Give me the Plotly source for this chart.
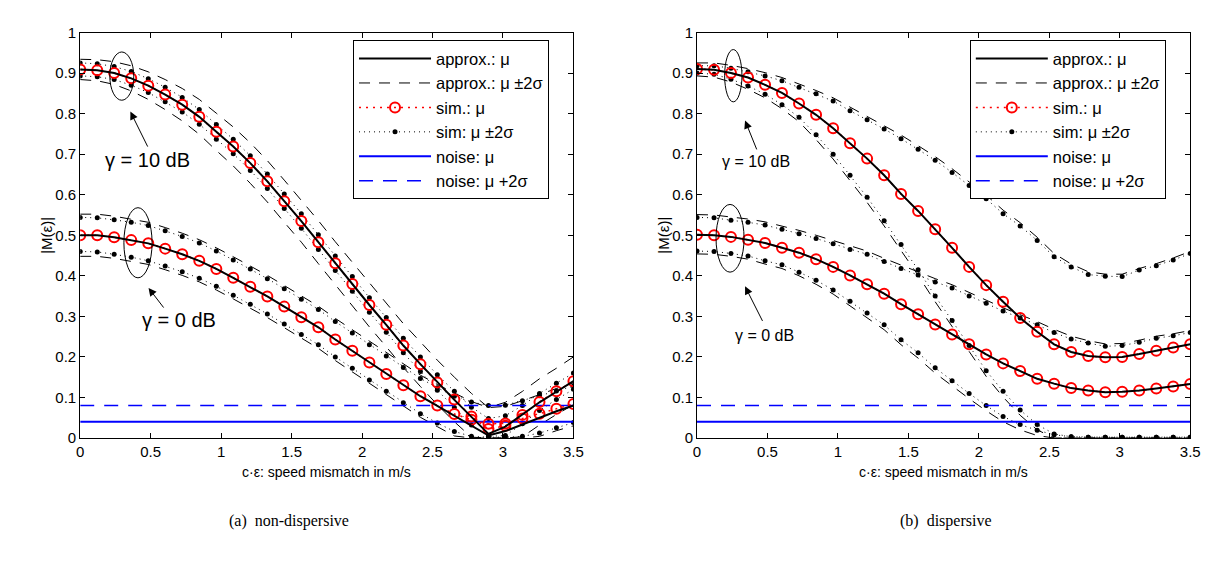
import plotly.graph_objects as go

# ---------------- data ----------------
x_vals = [0.000, 0.121, 0.241, 0.362, 0.483, 0.603, 0.724, 0.845, 0.966, 1.086,
          1.207, 1.328, 1.448, 1.569, 1.690, 1.810, 1.931, 2.052, 2.172, 2.293,
          2.414, 2.534, 2.655, 2.776, 2.897, 3.017, 3.138, 3.259, 3.379, 3.500]

# (a) non-dispersive, gamma = 10 dB
nd_sim_mu_10 = [0.909, 0.907, 0.900, 0.887, 0.869, 0.847, 0.822, 0.792, 0.755, 0.719,
                0.678, 0.633, 0.584, 0.535, 0.483, 0.431, 0.380, 0.328, 0.279, 0.228,
                0.182, 0.137, 0.095, 0.053, 0.022, 0.030, 0.057, 0.089, 0.115, 0.140]
nd_apx_mu_10 = [0.909, 0.907, 0.900, 0.887, 0.869, 0.847, 0.822, 0.792, 0.755, 0.719,
                0.678, 0.633, 0.584, 0.535, 0.483, 0.431, 0.380, 0.328, 0.279, 0.228,
                0.182, 0.137, 0.094, 0.052, 0.010, 0.028, 0.058, 0.088, 0.114, 0.140]
nd_sim_up_10 = [0.925, 0.923, 0.916, 0.904, 0.886, 0.865, 0.840, 0.810, 0.773, 0.737,
                0.696, 0.651, 0.602, 0.553, 0.501, 0.449, 0.398, 0.346, 0.297, 0.246,
                0.200, 0.156, 0.115, 0.076, 0.048, 0.055, 0.080, 0.110, 0.135, 0.160]
nd_sim_lo_10 = [0.893, 0.891, 0.884, 0.870, 0.852, 0.829, 0.804, 0.774, 0.737, 0.701,
                0.660, 0.615, 0.566, 0.517, 0.465, 0.413, 0.362, 0.310, 0.261, 0.210,
                0.164, 0.118, 0.075, 0.032, 0.004, 0.006, 0.035, 0.068, 0.095, 0.120]
nd_apx_up_10 = [0.934, 0.933, 0.928, 0.918, 0.903, 0.884, 0.862, 0.835, 0.801, 0.767,
                0.728, 0.684, 0.636, 0.587, 0.536, 0.484, 0.433, 0.382, 0.333, 0.282,
                0.237, 0.192, 0.150, 0.110, 0.075, 0.088, 0.115, 0.146, 0.172, 0.200]
nd_apx_lo_10 = [0.884, 0.881, 0.872, 0.856, 0.835, 0.810, 0.782, 0.749, 0.709, 0.671,
                0.628, 0.582, 0.532, 0.483, 0.430, 0.378, 0.327, 0.274, 0.225, 0.174,
                0.127, 0.082, 0.040, 0.002, 0.000, 0.000, 0.003, 0.032, 0.058, 0.082]

# (a) non-dispersive, gamma = 0 dB
nd_sim_mu_0 = [0.500, 0.500, 0.495, 0.488, 0.480, 0.467, 0.453, 0.437, 0.417, 0.395,
               0.373, 0.349, 0.324, 0.298, 0.273, 0.243, 0.215, 0.186, 0.158, 0.130,
               0.103, 0.080, 0.059, 0.045, 0.035, 0.036, 0.048, 0.060, 0.072, 0.084]
nd_apx_mu_0 = [0.500, 0.500, 0.495, 0.488, 0.480, 0.467, 0.453, 0.437, 0.417, 0.395,
               0.373, 0.349, 0.324, 0.298, 0.273, 0.243, 0.215, 0.186, 0.158, 0.130,
               0.103, 0.079, 0.055, 0.030, 0.006, 0.017, 0.034, 0.050, 0.066, 0.080]
nd_sim_up_0 = [0.544, 0.543, 0.538, 0.532, 0.524, 0.511, 0.497, 0.481, 0.461, 0.439,
               0.417, 0.393, 0.368, 0.342, 0.317, 0.287, 0.259, 0.230, 0.202, 0.174,
               0.147, 0.124, 0.103, 0.089, 0.080, 0.081, 0.092, 0.104, 0.116, 0.128]
nd_sim_lo_0 = [0.460, 0.459, 0.453, 0.446, 0.437, 0.424, 0.410, 0.394, 0.374, 0.352,
               0.330, 0.306, 0.281, 0.255, 0.230, 0.200, 0.172, 0.143, 0.115, 0.087,
               0.060, 0.037, 0.016, 0.004, 0.002, 0.002, 0.004, 0.012, 0.025, 0.038]
nd_apx_up_0 = [0.552, 0.552, 0.547, 0.540, 0.532, 0.519, 0.505, 0.489, 0.469, 0.447,
               0.425, 0.401, 0.376, 0.350, 0.325, 0.295, 0.267, 0.238, 0.210, 0.182,
               0.155, 0.132, 0.110, 0.090, 0.075, 0.078, 0.092, 0.108, 0.122, 0.136]
nd_apx_lo_0 = [0.448, 0.448, 0.443, 0.436, 0.428, 0.415, 0.401, 0.385, 0.365, 0.343,
               0.321, 0.297, 0.272, 0.246, 0.221, 0.191, 0.163, 0.134, 0.106, 0.078,
               0.051, 0.028, 0.005, 0.000, 0.000, 0.000, 0.000, 0.004, 0.018, 0.030]

# (b) dispersive, gamma = 10 dB
d_mu_10 = [0.910, 0.908, 0.900, 0.889, 0.871, 0.851, 0.825, 0.797, 0.764, 0.727,
           0.689, 0.648, 0.602, 0.560, 0.515, 0.469, 0.422, 0.377, 0.336, 0.296,
           0.262, 0.231, 0.212, 0.202, 0.199, 0.200, 0.207, 0.215, 0.223, 0.231]
d_sim_up_10 = [0.918, 0.918, 0.912, 0.903, 0.893, 0.881, 0.865, 0.849, 0.831, 0.807,
               0.785, 0.762, 0.738, 0.712, 0.685, 0.655, 0.623, 0.590, 0.553, 0.523,
               0.487, 0.447, 0.422, 0.403, 0.399, 0.398, 0.414, 0.425, 0.439, 0.455]
d_sim_lo_10 = [0.900, 0.897, 0.885, 0.868, 0.848, 0.822, 0.791, 0.748, 0.700, 0.648,
               0.594, 0.536, 0.477, 0.415, 0.350, 0.290, 0.228, 0.166, 0.115, 0.069,
               0.033, 0.010, 0.003, 0.002, 0.002, 0.002, 0.002, 0.002, 0.002, 0.002]
d_apx_up_10 = [0.925, 0.925, 0.919, 0.911, 0.901, 0.889, 0.873, 0.857, 0.839, 0.816,
               0.794, 0.771, 0.747, 0.721, 0.694, 0.664, 0.632, 0.599, 0.562, 0.531,
               0.495, 0.455, 0.429, 0.410, 0.404, 0.404, 0.418, 0.430, 0.444, 0.460]
d_apx_lo_10 = [0.893, 0.890, 0.878, 0.860, 0.839, 0.812, 0.780, 0.736, 0.688, 0.636,
               0.581, 0.523, 0.463, 0.401, 0.336, 0.276, 0.214, 0.152, 0.101, 0.056,
               0.020, 0.000, 0.000, 0.000, 0.000, 0.000, 0.000, 0.000, 0.000, 0.000]

# (b) dispersive, gamma = 0 dB
d_mu_0 = [0.501, 0.500, 0.496, 0.489, 0.481, 0.469, 0.457, 0.441, 0.422, 0.401,
          0.379, 0.356, 0.330, 0.305, 0.280, 0.255, 0.231, 0.206, 0.184, 0.165,
          0.146, 0.134, 0.123, 0.117, 0.113, 0.114, 0.117, 0.122, 0.127, 0.133]
d_sim_up_0 = [0.544, 0.543, 0.537, 0.532, 0.525, 0.515, 0.504, 0.492, 0.479, 0.465,
              0.453, 0.435, 0.418, 0.402, 0.385, 0.370, 0.350, 0.332, 0.313, 0.296,
              0.279, 0.260, 0.244, 0.234, 0.226, 0.228, 0.236, 0.246, 0.252, 0.260]
d_sim_lo_0 = [0.461, 0.460, 0.455, 0.449, 0.437, 0.427, 0.409, 0.389, 0.365, 0.337,
              0.308, 0.279, 0.242, 0.210, 0.173, 0.141, 0.110, 0.080, 0.053, 0.033,
              0.019, 0.008, 0.003, 0.002, 0.002, 0.002, 0.002, 0.002, 0.002, 0.002]
d_apx_up_0 = [0.551, 0.550, 0.545, 0.540, 0.533, 0.523, 0.512, 0.500, 0.487, 0.473,
              0.461, 0.443, 0.426, 0.410, 0.393, 0.378, 0.358, 0.340, 0.321, 0.304,
              0.287, 0.268, 0.251, 0.240, 0.232, 0.233, 0.241, 0.251, 0.257, 0.265]
d_apx_lo_0 = [0.454, 0.453, 0.448, 0.441, 0.429, 0.418, 0.400, 0.379, 0.355, 0.326,
              0.297, 0.267, 0.230, 0.197, 0.160, 0.128, 0.097, 0.067, 0.040, 0.020,
              0.006, 0.000, 0.000, 0.000, 0.000, 0.000, 0.000, 0.000, 0.000, 0.000]

noise_mu = 0.04
noise_up = 0.08

x_ticks = [0, 0.5, 1, 1.5, 2, 2.5, 3, 3.5]
x_ticklabels = ["0", "0.5", "1", "1.5", "2", "2.5", "3", "3.5"]
y_ticks = [0, 0.1, 0.2, 0.3, 0.4, 0.5, 0.6, 0.7, 0.8, 0.9, 1]
y_ticklabels = ["0", "0.1", "0.2", "0.3", "0.4", "0.5", "0.6", "0.7", "0.8", "0.9", "1"]

legend_names = ["approx.: μ", "approx.: μ ±2σ", "sim.: μ", "sim: μ ±2σ",
                "noise: μ", "noise: μ +2σ"]

# ---------------- figure ----------------
W, H = 1213, 567
FONT = "Liberation Sans"
fig = go.Figure()

BLUE = "#0000ff"
RED = "#ff0000"


def add_panel(xa, ya, leg, apx_mu, apx_up, apx_lo, sim_mu, sim_up, sim_lo):
    first = {k: True for k in range(6)}

    def show(k):
        s = first[k]
        first[k] = False
        return s

    common = dict(xaxis=xa, yaxis=ya, legend=leg, hoverinfo="skip")
    for arr in apx_up + apx_lo:
        fig.add_trace(go.Scatter(x=x_vals, y=arr, mode="lines",
                                 line=dict(color="black", width=1, dash="11px,9px"),
                                 name=legend_names[1], showlegend=show(1),
                                 legendrank=2, **common))
    for arr in sim_up + sim_lo:
        fig.add_trace(go.Scatter(x=x_vals, y=arr, mode="lines+markers",
                                 line=dict(color="black", width=1, dash="1px,4px"),
                                 marker=dict(symbol="circle", size=5, color="black"),
                                 name=legend_names[3], showlegend=show(3),
                                 legendrank=4, **common))
    fig.add_trace(go.Scatter(x=[x_ticks[0], x_ticks[-1]], y=[noise_mu, noise_mu],
                             mode="lines", line=dict(color=BLUE, width=2),
                             name=legend_names[4], showlegend=True, legendrank=5, **common))
    fig.add_trace(go.Scatter(x=[x_ticks[0], x_ticks[-1]], y=[noise_up, noise_up],
                             mode="lines", line=dict(color=BLUE, width=1.4, dash="14px,10px"),
                             name=legend_names[5], showlegend=True, legendrank=6, **common))
    for arr in sim_mu:
        fig.add_trace(go.Scatter(x=x_vals, y=arr, mode="lines+markers",
                                 line=dict(color=RED, width=1.5, dash="2px,5px"),
                                 marker=dict(symbol="circle-open", size=10,
                                             color=RED, line=dict(width=2, color=RED)),
                                 name=legend_names[2], showlegend=show(2),
                                 legendrank=3, **common))
    for arr in apx_mu:
        fig.add_trace(go.Scatter(x=x_vals, y=arr, mode="lines",
                                 line=dict(color="black", width=2),
                                 name=legend_names[0], showlegend=show(0),
                                 legendrank=1, **common))


add_panel("x", "y", "legend",
          [nd_apx_mu_10, nd_apx_mu_0], [nd_apx_up_10, nd_apx_up_0], [nd_apx_lo_10, nd_apx_lo_0],
          [nd_sim_mu_10, nd_sim_mu_0], [nd_sim_up_10, nd_sim_up_0], [nd_sim_lo_10, nd_sim_lo_0])
add_panel("x2", "y2", "legend2",
          [d_mu_10, d_mu_0], [d_apx_up_10, d_apx_up_0], [d_apx_lo_10, d_apx_lo_0],
          [d_mu_10, d_mu_0], [d_sim_up_10, d_sim_up_0], [d_sim_lo_10, d_sim_lo_0])

# plot area geometry (pixels)
L1, R1 = 69, 568
L2, R2 = 693, 1192
TOP, BOT = 16, 434
xd1 = [L1 / W, R1 / W]
xd2 = [L2 / W, R2 / W]
yd = [1 - BOT / H, 1 - TOP / H]

axis_common = dict(showline=True, linecolor="black", linewidth=1, mirror="allticks",
                   ticks="inside", ticklen=5, tickcolor="black", showgrid=False,
                   zeroline=False, tickfont=dict(family=FONT, size=15, color="black"))

legend_common = dict(y=1 - 24 / H, xanchor="left", yanchor="top",
                     bordercolor="black", borderwidth=1, bgcolor="white",
                     font=dict(family=FONT, size=16.5, color="black"),
                     itemwidth=72, tracegroupgap=0)

fig.update_layout(
    width=W, height=H, margin=dict(l=0, r=0, t=0, b=0),
    paper_bgcolor="white", plot_bgcolor="white",
    xaxis=dict(domain=xd1, range=[0, 3.5], tickvals=x_ticks, ticktext=x_ticklabels,
               anchor="y", **axis_common),
    yaxis=dict(domain=yd, range=[0, 1], tickvals=y_ticks, ticktext=y_ticklabels,
               anchor="x", **axis_common),
    xaxis2=dict(domain=xd2, range=[0, 3.5], tickvals=x_ticks, ticktext=x_ticklabels,
                anchor="y2", **axis_common),
    yaxis2=dict(domain=yd, range=[0, 1], tickvals=y_ticks, ticktext=y_ticklabels,
                anchor="x2", **axis_common),
    legend=dict(x=(969 - L2 + L1) / W, **legend_common),
    legend2=dict(x=969 / W, **legend_common),
    showlegend=True,
)

# ellipses
shapes = [
    dict(type="circle", xref="x", yref="y", x0=0.21, x1=0.38, y0=0.833, y1=0.952),
    dict(type="circle", xref="x", yref="y", x0=0.31, x1=0.51, y0=0.395, y1=0.568),
    dict(type="circle", xref="x2", yref="y2", x0=0.196, x1=0.319, y0=0.829, y1=0.958),
    dict(type="circle", xref="x2", yref="y2", x0=0.135, x1=0.334, y0=0.409, y1=0.576),
]
for s in shapes:
    s["line"] = dict(color="black", width=1)
    fig.add_shape(**s)

annotations = []
arrows = [
    ("x", "y", 0.356, 0.805, 0.484, 0.715),
    ("x", "y", 0.485, 0.370, 0.600, 0.318),
    ("x2", "y2", 0.341, 0.783, 0.428, 0.708),
    ("x2", "y2", 0.341, 0.374, 0.470, 0.285),
]
for xr, yr, hx, hy, tx, ty in arrows:
    annotations.append(dict(xref=xr, yref=yr, axref=xr, ayref=yr, x=hx, y=hy, ax=tx, ay=ty,
                            text="", showarrow=True, arrowhead=2, arrowsize=1.6,
                            arrowwidth=1, arrowcolor="black"))
gam = [
    ("x", "y", 0.48, 0.685, "γ = 10 dB", 20),
    ("x", "y", 0.70, 0.292, "γ = 0 dB", 20),
    ("x2", "y2", 0.42, 0.682, "γ = 10 dB", 16),
    ("x2", "y2", 0.48, 0.254, "γ = 0 dB", 16),
]
for xr, yr, xx, yy, t, fs in gam:
    annotations.append(dict(xref=xr, yref=yr, x=xx, y=yy, text=t, showarrow=False,
                            xanchor="center", yanchor="middle",
                            font=dict(family=FONT, size=fs, color="black")))
for L, R in [(L1, R1), (L2, R2)]:
    annotations.append(dict(xref="paper", yref="paper", x=(L + R) / 2 / W, y=1 - 469 / H,
                            xanchor="center", yanchor="middle",
                            text="c·ε: speed mismatch in m/s", showarrow=False,
                            font=dict(family=FONT, size=14, color="black")))
    annotations.append(dict(xref="paper", yref="paper", x=(L - 34) / W, y=1 - 225 / H,
                            xanchor="center", yanchor="middle",
                            text="|M(ε)|", textangle=-90, showarrow=False,
                            font=dict(family=FONT, size=15, color="black")))
annotations.append(dict(xref="paper", yref="paper", x=280 / W, y=1 - 520 / H,
                        xanchor="center", yanchor="middle",
                        text="(a)  non-dispersive", showarrow=False,
                        font=dict(family="Liberation Serif", size=16, color="black")))
annotations.append(dict(xref="paper", yref="paper", x=945 / W, y=1 - 520 / H,
                        xanchor="center", yanchor="middle",
                        text="(b)  dispersive", showarrow=False,
                        font=dict(family="Liberation Serif", size=16, color="black")))
fig.update_layout(annotations=annotations)

fig.write_html("out.html")
